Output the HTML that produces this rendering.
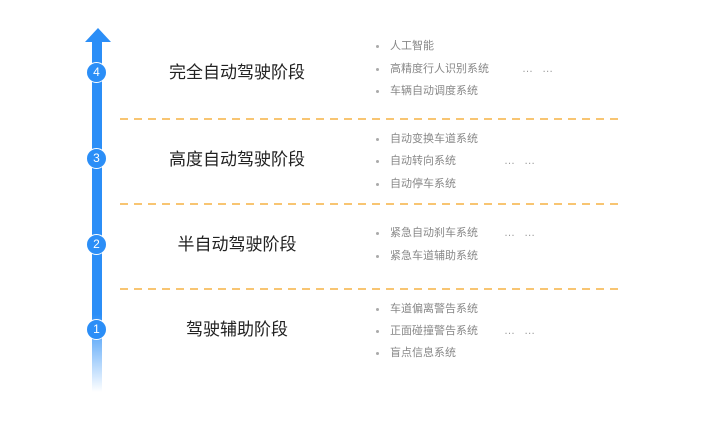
<!DOCTYPE html>
<html><head><meta charset="utf-8"><style>
body{margin:0;width:720px;height:422px;background:#fff;position:relative;overflow:hidden;font-family:"Liberation Sans","Noto Sans CJK SC",sans-serif}
.bar{position:absolute;left:92px;top:40px;width:10px;height:352px;background:linear-gradient(to bottom,#2b8ef7 0,#2b8ef7 78%,rgba(43,142,247,0) 100%)}
.head{position:absolute;left:85px;top:28px;width:0;height:0;border-left:13px solid transparent;border-right:13px solid transparent;border-bottom:14px solid #2b8ef7}
.c{position:absolute;left:86px;width:19px;height:19px;border-radius:50%;background:#2b8ef7;border:1.5px solid #fff;color:#fff;font-size:12px;text-align:center;line-height:19px}
.dash{position:absolute;left:120px;width:502px;height:2px;background:repeating-linear-gradient(to right,#f8c572 0,#f8c572 8px,transparent 8px,transparent 14px)}
.t{position:absolute;left:137px;width:200px;text-align:center;font-size:17px;color:#222;line-height:20px}
.b{position:absolute;left:376px;font-size:11px;color:#888;line-height:14px}
.b:before{content:"";position:absolute;left:0;top:6px;width:3px;height:3px;border-radius:50%;background:#aaa}
.b span{margin-left:14px}
.d{position:absolute;font-size:11px;color:#999;line-height:14px}
</style></head><body>
<div class="bar"></div><div class="head"></div>
<div class="c" style="top:62px">4</div>
<div class="c" style="top:148px">3</div>
<div class="c" style="top:234px">2</div>
<div class="c" style="top:319px">1</div>
<div class="dash" style="top:118px"></div>
<div class="dash" style="top:203px"></div>
<div class="dash" style="top:288px"></div>
<div class="t" style="top:63px">完全自动驾驶阶段</div>
<div class="t" style="top:150px">高度自动驾驶阶段</div>
<div class="t" style="top:235px">半自动驾驶阶段</div>
<div class="t" style="top:320px">驾驶辅助阶段</div>
<div class="b" style="top:39px"><span>人工智能</span></div>
<div class="b" style="top:62px"><span>高精度行人识别系统</span></div>
<div class="d" style="top:62px;left:522px">…&nbsp;&nbsp;&nbsp;…</div>
<div class="b" style="top:84px"><span>车辆自动调度系统</span></div>
<div class="b" style="top:132px"><span>自动变换车道系统</span></div>
<div class="b" style="top:154px"><span>自动转向系统</span></div>
<div class="d" style="top:154px;left:504px">…&nbsp;&nbsp;&nbsp;…</div>
<div class="b" style="top:177px"><span>自动停车系统</span></div>
<div class="b" style="top:226px"><span>紧急自动刹车系统</span></div>
<div class="d" style="top:226px;left:504px">…&nbsp;&nbsp;&nbsp;…</div>
<div class="b" style="top:249px"><span>紧急车道辅助系统</span></div>
<div class="b" style="top:302px"><span>车道偏离警告系统</span></div>
<div class="b" style="top:324px"><span>正面碰撞警告系统</span></div>
<div class="d" style="top:324px;left:504px">…&nbsp;&nbsp;&nbsp;…</div>
<div class="b" style="top:346px"><span>盲点信息系统</span></div>
</body></html>
